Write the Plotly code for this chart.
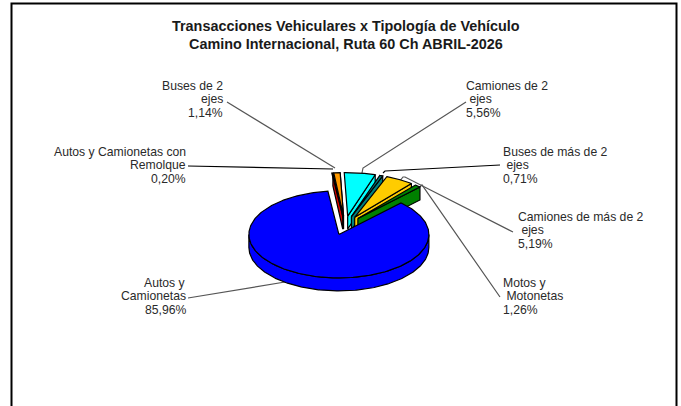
import numpy as np
import plotly.graph_objects as go

# Data, in drawing order clockwise from the blue slice's end
names = [["Autos y Camionetas con", "Remolque"], ["Buses de 2", "ejes"], ["Camiones de 2", "\u00a0ejes"],
         ["Buses de más de 2", "\u00a0ejes"], ["Camiones de más de 2", "\u00a0ejes"],
         ["Motos y", "\u00a0Motonetas"], ["Autos y", "Camionetas"]]
values = [0.20, 1.14, 5.56, 0.71, 5.19, 1.26, 85.96]
colors = ["#E00000", "#FF9900", "#00FFFF", "#008080", "#FFCC00", "#008000", "#0000FF"]
title_lines = ["Transacciones Vehiculares x Tipología de Vehículo", "Camino Internacional, Ruta 60 Ch ABRIL-2026"]

# Layout of the projected pie
CX, CY, RX, RY, DEPTH, EXPLODE = 345.0, 225.5, 90.0, 43.5, 13.0, 19.5
START_DEG = -7.0
LINE = "#000000"

# label anchor: x, centre y of first line, alignment
label_pos = [(187.5, 152, "right"), (225, 86, "right"), (464, 86, "left"), (501, 152, "left"),
             (516, 217, "left"), (501, 283, "left"), (187.5, 283, "right")]
LINE_STEP = 13.3
leaders = [
    [(188, 166), (333, 169)],
    [(227, 102), (335, 168)],
    [(466, 102), (363, 168), (362, 173)],
    [(500, 165), (385, 171), (383, 173)],
    [(513, 232), (405, 177), (403, 177), (399, 182)],
    [(500, 297), (422, 185), (416, 190)],
    [(188, 298), (285, 282), (308, 279), (308, 276)],
]

fig = go.Figure()


def pt(cx, cy, t, dy=0.0):
    return cx + RX * np.sin(t), cy - RY * np.cos(t) + dy


def poly(xs, ys, color):
    fig.add_trace(go.Scatter(x=list(xs), y=list(ys), mode="lines", fill="toself", fillcolor=color,
                             line=dict(color=LINE, width=1.2), hoverinfo="skip", showlegend=False))


# leaders below the wedges
for pts in leaders:
    c = "#000000" if pts is leaders[0] or pts is leaders[3] else "#555555"
    fig.add_trace(go.Scatter(x=[p[0] for p in pts], y=[p[1] for p in pts], mode="lines",
                             line=dict(color=c, width=1.2), hoverinfo="skip", showlegend=False))

total = sum(values)
angle = np.radians(START_DEG)
for v, col in zip(values, colors):
    span = 2 * np.pi * v / total
    a0, a1 = angle, angle + span
    angle = a1
    mid = (a0 + a1) / 2
    ax, ay = pt(CX, CY, mid)
    ax = CX + (ax - CX) * EXPLODE / RX
    ay = CY + (ay - CY) * EXPLODE / RX
    big = span > np.pi
    if not big:
        ex, ey = pt(ax, ay, a1)
        poly([ax, ex, ex, ax, ax], [ay, ey, ey + DEPTH, ay + DEPTH, ay], col)
    ts = np.linspace(a0, a1, 300)
    if big:
        front = np.radians(np.linspace(90, 270, 200))
        xs, ys = pt(ax, ay, front)
        xb, yb = pt(ax, ay, front[::-1], DEPTH)
        poly(np.r_[xs, xb, xs[0]], np.r_[ys, yb, ys[0]], col)
    xs, ys = pt(ax, ay, ts)
    poly(np.r_[ax, xs, ax], np.r_[ay, ys, ay], col)

annotations = []
for nm, v, (x, y, al) in zip(names, values, label_pos):
    pct = f"{v:.2f}".replace(".", ",") + "%"
    for i, line in enumerate(nm + [pct]):
        annotations.append(dict(x=x, y=y + i * LINE_STEP, xref="x", yref="y", text=line, showarrow=False,
                                xanchor=al, yanchor="middle", align=al,
                                font=dict(family="Liberation Sans", size=12.2, color="#2a2a2a")))

for line, y in zip(title_lines, (26, 43.5)):
    annotations.append(dict(x=345.5, y=y, xref="x", yref="y", text=f"<b>{line}</b>", showarrow=False,
                            xanchor="center", yanchor="middle", align="center",
                            font=dict(family="Liberation Sans", size=14.4, color="#1a1a1a")))

fig.update_layout(
    width=681, height=406, margin=dict(l=0, r=0, t=0, b=0), paper_bgcolor="white", plot_bgcolor="white",
    xaxis=dict(range=[0, 681], visible=False, fixedrange=True),
    yaxis=dict(range=[406, 0], visible=False, fixedrange=True),
    annotations=annotations, showlegend=False,
    shapes=[dict(type="path", path="M 11.5 406 L 11.5 3.5 L 676.5 3.5 L 676.5 406", xref="x", yref="y",
                 line=dict(color="#000000", width=2))],
)
fig.write_html("out.html", config=dict(displayModeBar=False),
               post_script="document.body.style.margin='0';document.body.style.overflow='hidden';")
